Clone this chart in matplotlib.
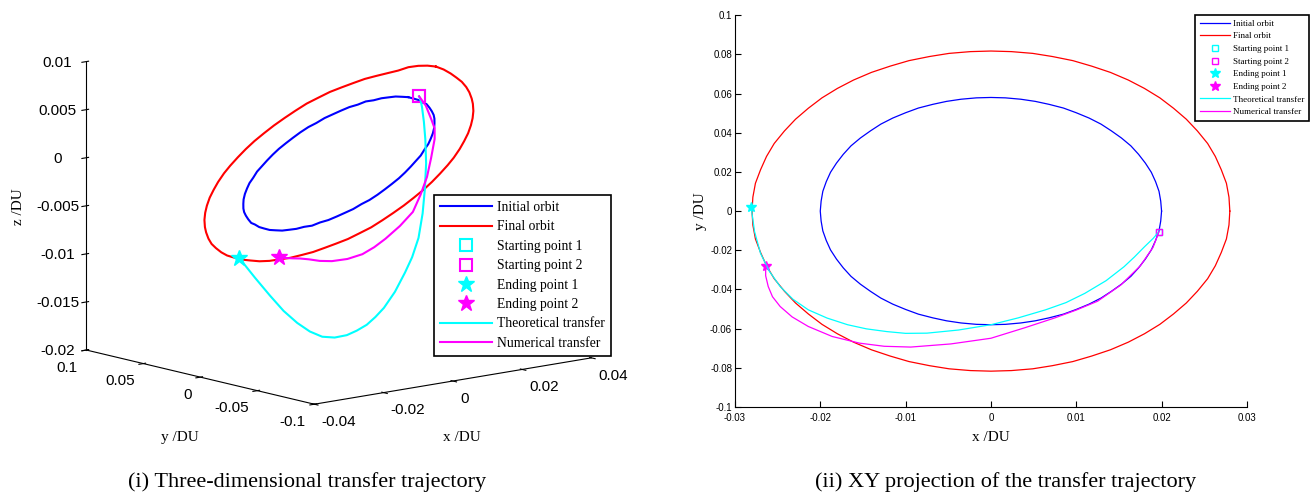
import numpy as np
import matplotlib.pyplot as plt

plt.rcParams['font.family'] = ['Liberation Sans', 'DejaVu Sans']

# initial orbit (x, y, z in DU)
init_x = [0.0200, 0.0199, 0.0197, 0.0193, 0.0188, 0.0181, 0.0173, 0.0164, 0.0153, 0.0141,
          0.0129, 0.0115, 0.0100, 0.0085, 0.0068, 0.0052, 0.0035, 0.0017, 0.0000,
          -0.0017, -0.0035, -0.0052, -0.0068, -0.0085, -0.0100, -0.0115, -0.0129, -0.0141,
          -0.0153, -0.0164, -0.0173, -0.0181, -0.0188, -0.0193, -0.0197, -0.0199, -0.0200,
          -0.0199, -0.0197, -0.0193, -0.0188, -0.0181, -0.0173, -0.0164, -0.0153, -0.0141,
          -0.0129, -0.0115, -0.0100, -0.0085, -0.0068, -0.0052, -0.0035, -0.0017, 0.0000,
          0.0017, 0.0035, 0.0052, 0.0068, 0.0085, 0.0100, 0.0115, 0.0129, 0.0141,
          0.0153, 0.0164, 0.0173, 0.0181, 0.0188, 0.0193, 0.0197, 0.0199, 0.0200]
init_y = [0.0000, 0.0051, 0.0101, 0.0150, 0.0198, 0.0245, 0.0290, 0.0333, 0.0373, 0.0410,
          0.0444, 0.0475, 0.0502, 0.0526, 0.0545, 0.0560, 0.0571, 0.0578, 0.0580,
          0.0578, 0.0571, 0.0560, 0.0545, 0.0526, 0.0502, 0.0475, 0.0444, 0.0410,
          0.0373, 0.0333, 0.0290, 0.0245, 0.0198, 0.0150, 0.0101, 0.0051, 0.0000,
          -0.0051, -0.0101, -0.0150, -0.0198, -0.0245, -0.0290, -0.0333, -0.0373, -0.0410,
          -0.0444, -0.0475, -0.0502, -0.0526, -0.0545, -0.0560, -0.0571, -0.0578, -0.0580,
          -0.0578, -0.0571, -0.0560, -0.0545, -0.0526, -0.0502, -0.0475, -0.0444, -0.0410,
          -0.0373, -0.0333, -0.0290, -0.0245, -0.0198, -0.0150, -0.0101, -0.0051, 0.0000]
init_z = [0.0055, 0.0054, 0.0053, 0.0051, 0.0049, 0.0046, 0.0044, 0.0040, 0.0037, 0.0033,
          0.0029, 0.0025, 0.0020, 0.0016, 0.0011, 0.0006, 0.0001, -0.0004, -0.0009,
          -0.0014, -0.0019, -0.0023, -0.0028, -0.0032, -0.0036, -0.0040, -0.0044, -0.0047,
          -0.0050, -0.0052, -0.0054, -0.0056, -0.0058, -0.0058, -0.0059, -0.0059, -0.0059,
          -0.0058, -0.0057, -0.0055, -0.0053, -0.0050, -0.0048, -0.0044, -0.0041, -0.0037,
          -0.0033, -0.0029, -0.0024, -0.0020, -0.0015, -0.0010, -0.0005, 0.0000, 0.0005,
          0.0010, 0.0015, 0.0019, 0.0024, 0.0028, 0.0032, 0.0036, 0.0040, 0.0043,
          0.0046, 0.0048, 0.0050, 0.0052, 0.0054, 0.0054, 0.0055, 0.0055, 0.0055]

# final orbit
final_x = [0.0280, 0.0279, 0.0276, 0.0270, 0.0263, 0.0254, 0.0242, 0.0229, 0.0214, 0.0198,
           0.0180, 0.0161, 0.0140, 0.0118, 0.0096, 0.0072, 0.0049, 0.0024, 0.0000,
           -0.0024, -0.0049, -0.0072, -0.0096, -0.0118, -0.0140, -0.0161, -0.0180, -0.0198,
           -0.0214, -0.0229, -0.0242, -0.0254, -0.0263, -0.0270, -0.0276, -0.0279, -0.0280,
           -0.0279, -0.0276, -0.0270, -0.0263, -0.0254, -0.0242, -0.0229, -0.0214, -0.0198,
           -0.0180, -0.0161, -0.0140, -0.0118, -0.0096, -0.0072, -0.0049, -0.0024, 0.0000,
           0.0024, 0.0049, 0.0072, 0.0096, 0.0118, 0.0140, 0.0161, 0.0180, 0.0198,
           0.0214, 0.0229, 0.0242, 0.0254, 0.0263, 0.0270, 0.0276, 0.0279, 0.0280]
final_y = [0.0000, 0.0071, 0.0142, 0.0211, 0.0279, 0.0345, 0.0409, 0.0469, 0.0525, 0.0578,
           0.0626, 0.0669, 0.0708, 0.0740, 0.0768, 0.0789, 0.0805, 0.0814, 0.0817,
           0.0814, 0.0805, 0.0789, 0.0768, 0.0740, 0.0708, 0.0669, 0.0626, 0.0578,
           0.0525, 0.0469, 0.0409, 0.0345, 0.0279, 0.0211, 0.0142, 0.0071, 0.0000,
           -0.0071, -0.0142, -0.0211, -0.0279, -0.0345, -0.0409, -0.0469, -0.0525, -0.0578,
           -0.0626, -0.0669, -0.0708, -0.0740, -0.0768, -0.0789, -0.0805, -0.0814, -0.0817,
           -0.0814, -0.0805, -0.0789, -0.0768, -0.0740, -0.0708, -0.0669, -0.0626, -0.0578,
           -0.0525, -0.0469, -0.0409, -0.0345, -0.0279, -0.0211, -0.0142, -0.0071, 0.0000]
final_z = [0.0082, 0.0081, 0.0079, 0.0076, 0.0071, 0.0067, 0.0063, 0.0059, 0.0054, 0.0049,
           0.0044, 0.0038, 0.0032, 0.0025, 0.0018, 0.0011, 0.0004, -0.0003, -0.0010,
           -0.0017, -0.0024, -0.0030, -0.0037, -0.0043, -0.0049, -0.0055, -0.0060, -0.0065,
           -0.0070, -0.0073, -0.0077, -0.0080, -0.0082, -0.0084, -0.0085, -0.0085, -0.0085,
           -0.0084, -0.0083, -0.0081, -0.0078, -0.0075, -0.0071, -0.0067, -0.0062, -0.0057,
           -0.0052, -0.0046, -0.0040, -0.0033, -0.0026, -0.0019, -0.0012, -0.0005, 0.0002,
           0.0009, 0.0016, 0.0022, 0.0029, 0.0035, 0.0041, 0.0047, 0.0052, 0.0057,
           0.0062, 0.0065, 0.0069, 0.0072, 0.0075, 0.0077, 0.0079, 0.0081, 0.0082]

# theoretical transfer
theo_x = [0.0197, 0.0190, 0.0180, 0.0168, 0.0156, 0.0135, 0.0110, 0.0088, 0.0064, 0.0032,
          0.0000, -0.0038, -0.0075, -0.0100, -0.0122, -0.0146, -0.0168, -0.0192, -0.0214,
          -0.0232, -0.0247, -0.0260, -0.0270, -0.0277, -0.0281]
theo_y = [-0.0105, -0.0140, -0.0182, -0.0235, -0.0284, -0.0355, -0.0420, -0.0467, -0.0504,
          -0.0545, -0.0580, -0.0607, -0.0623, -0.0624, -0.0615, -0.0601, -0.0580, -0.0546,
          -0.0504, -0.0450, -0.0385, -0.0305, -0.0216, -0.0105, 0.0019]
theo_z = [0.0059, 0.0056, 0.0051, 0.0038, 0.0022, 0.0000, -0.0023, -0.0046, -0.0069,
          -0.0086, -0.0099, -0.0116, -0.0130, -0.0138, -0.0145, -0.0150, -0.0154, -0.0156,
          -0.0155, -0.0150, -0.0142, -0.0131, -0.0117, -0.0101, -0.0084]

# numerical transfer
num_x = [0.0197, 0.0190, 0.0175, 0.0152, 0.0125, 0.0100, 0.0075, 0.0040, 0.0000, -0.0047,
         -0.0094, -0.0125, -0.0154, -0.0186, -0.0214, -0.0233, -0.0247, -0.0256, -0.0261,
         -0.0264, -0.0264]
num_y = [-0.0105, -0.0185, -0.0280, -0.0378, -0.0460, -0.0505, -0.0545, -0.0595, -0.0649,
         -0.0678, -0.0694, -0.0690, -0.0674, -0.0640, -0.0589, -0.0540, -0.0487, -0.0437,
         -0.0385, -0.0330, -0.0278]
num_z = [0.0059, 0.0052, 0.0041, 0.0036, 0.0029, 0.0012, -0.0005, -0.0020, -0.0034,
         -0.0045, -0.0055, -0.0062, -0.0068, -0.0072, -0.0074, -0.0074, -0.0073, -0.0073,
         -0.0074, -0.0075, -0.0075]

labels = ['Initial orbit', 'Final orbit', 'Starting point 1', 'Starting point 2',
          'Ending point 1', 'Ending point 2', 'Theoretical transfer', 'Numerical transfer']

xt3 = [-0.04, -0.02, 0, 0.02, 0.04]
yt3 = [-0.1, -0.05, 0, 0.05, 0.1]
zt3 = [-0.02, -0.015, -0.01, -0.005, 0, 0.005, 0.01]
xt2 = [-0.03, -0.02, -0.01, 0, 0.01, 0.02, 0.03]
yt2 = [-0.1, -0.08, -0.06, -0.04, -0.02, 0, 0.02, 0.04, 0.06, 0.08, 0.1]

serif = ['Liberation Serif', 'DejaVu Serif']

fig = plt.figure(figsize=(13.11, 4.96), dpi=100)

# ---- (i) 3D view ----
ax = fig.add_axes([0.0037, 0.0945, 0.5, 0.94], projection='3d', proj_type='ortho')
ax.computed_zorder = False
ax.view_init(elev=11.5, azim=-130)
ax.set_box_aspect((1.02, 1, 0.83), zoom=1.22)

ax.plot(init_x, init_y, init_z, color='#0000ff', lw=1.5)
ax.plot(final_x, final_y, final_z, color='#ff0000', lw=1.5)
ax.plot([theo_x[0]], [theo_y[0]], [theo_z[0]], ls='none', marker='s', ms=8,
        mfc='none', mec='#00ffff', mew=1.5)
ax.plot([num_x[0]], [num_y[0]], [num_z[0]], ls='none', marker='s', ms=8,
        mfc='none', mec='#ff00ff', mew=1.5)
ax.plot([theo_x[-1]], [theo_y[-1]], [theo_z[-1]], ls='none', marker='*', ms=12,
        color='#00ffff')
ax.plot([num_x[-1]], [num_y[-1]], [num_z[-1]], ls='none', marker='*', ms=12,
        color='#ff00ff')
ax.plot(theo_x, theo_y, theo_z, color='#00ffff', lw=1.5)
ax.plot(num_x, num_y, num_z, color='#ff00ff', lw=1.5)

ax.set_xlim(-0.04, 0.04)
ax.set_ylim(-0.1, 0.1)
ax.set_zlim(-0.02, 0.01)
ax.set_xticks(xt3)
ax.set_yticks(yt3)
ax.set_zticks(zt3)
ax.set_xticklabels(['-0.04', '-0.02', '0', '0.02', '0.04'], ha='left')
ax.set_yticklabels(['-0.1', '-0.05', '0', '0.05', '0.1'], ha='right')
ax.set_zticklabels(['-0.02', '-0.015', '-0.01', '-0.005', '0', '0.005', '0.01'],
                   va='center_baseline')
ax.tick_params(labelsize=11)
ax.xaxis.set_tick_params(pad=-2.5)
ax.yaxis.set_tick_params(pad=-2.5)
ax.zaxis.set_tick_params(pad=2)
ax.grid(False)
for a in (ax.xaxis, ax.yaxis, ax.zaxis):
    a.pane.fill = False
    a.pane.set_edgecolor('none')
    a.line.set_color('black')

leg = ax.legend(labels, loc='upper left', bbox_to_anchor=(0.331, 0.6069),
                bbox_transform=fig.transFigure, prop={'family': serif, 'size': 9.8},
                fancybox=False, edgecolor='black', framealpha=1, handlelength=3.8,
                handletextpad=0.4, labelspacing=0.47, borderpad=0.45, borderaxespad=0)
leg.get_frame().set_linewidth(1.2)

fig.text(0.014, 0.583, 'z /DU', rotation=90, ha='center', va='center',
         family=serif, size=11)
fig.text(0.1373, 0.117, 'y /DU', ha='center', va='center', family=serif, size=11)
fig.text(0.3524, 0.117, 'x /DU', ha='center', va='center', family=serif, size=11)

# ---- (ii) XY projection ----
ax2 = fig.add_axes([0.5606, 0.1794, 0.3905, 0.790])
ax2.plot(init_x, init_y, color='#0000ff', lw=0.9)
ax2.plot(final_x, final_y, color='#ff0000', lw=0.9)
ax2.plot([theo_x[0]], [theo_y[0]], ls='none', marker='s', ms=5, mfc='none',
         mec='#00ffff', mew=1)
ax2.plot([num_x[0]], [num_y[0]], ls='none', marker='s', ms=5, mfc='none',
         mec='#ff00ff', mew=1)
ax2.plot([theo_x[-1]], [theo_y[-1]], ls='none', marker='*', ms=7, color='#00ffff')
ax2.plot([num_x[-1]], [num_y[-1]], ls='none', marker='*', ms=7, color='#ff00ff')
ax2.plot(theo_x, theo_y, color='#00ffff', lw=0.9)
ax2.plot(num_x, num_y, color='#ff00ff', lw=0.9)

ax2.set_xlim(-0.03, 0.03)
ax2.set_ylim(-0.1, 0.1)
ax2.set_xticks(xt2)
ax2.set_yticks(yt2)
ax2.set_xticklabels(['-0.03', '-0.02', '-0.01', '0', '0.01', '0.02', '0.03'])
ax2.set_yticklabels(['-0.1', '-0.08', '-0.06', '-0.04', '-0.02', '0', '0.02', '0.04',
                     '0.06', '0.08', '0.1'])
ax2.tick_params(direction='in', length=4, width=0.8, labelsize=7)
ax2.tick_params(axis='x', pad=4)
ax2.tick_params(axis='y', pad=2)
ax2.spines['top'].set_visible(False)
ax2.spines['right'].set_visible(False)
ax2.set_xlabel('x /DU', family=serif, size=11, labelpad=6)
ax2.set_ylabel('y /DU', family=serif, size=11, labelpad=2)

leg2 = ax2.legend(labels, loc='upper right', bbox_to_anchor=(0.9985, 0.970),
                  bbox_transform=fig.transFigure, prop={'family': serif, 'size': 6.5},
                  fancybox=False, edgecolor='black', framealpha=1, handlelength=3.3,
                  handletextpad=0.4, labelspacing=0.48, borderpad=0.5, borderaxespad=0)
leg2.get_frame().set_linewidth(1.2)

fig.text(0.234, 0.028, '(i) Three-dimensional transfer trajectory', ha='center',
         va='center', family=serif, size=16)
fig.text(0.767, 0.028, '(ii) XY projection of the transfer trajectory', ha='center',
         va='center', family=serif, size=16)

fig.savefig('out.png', dpi=100)
